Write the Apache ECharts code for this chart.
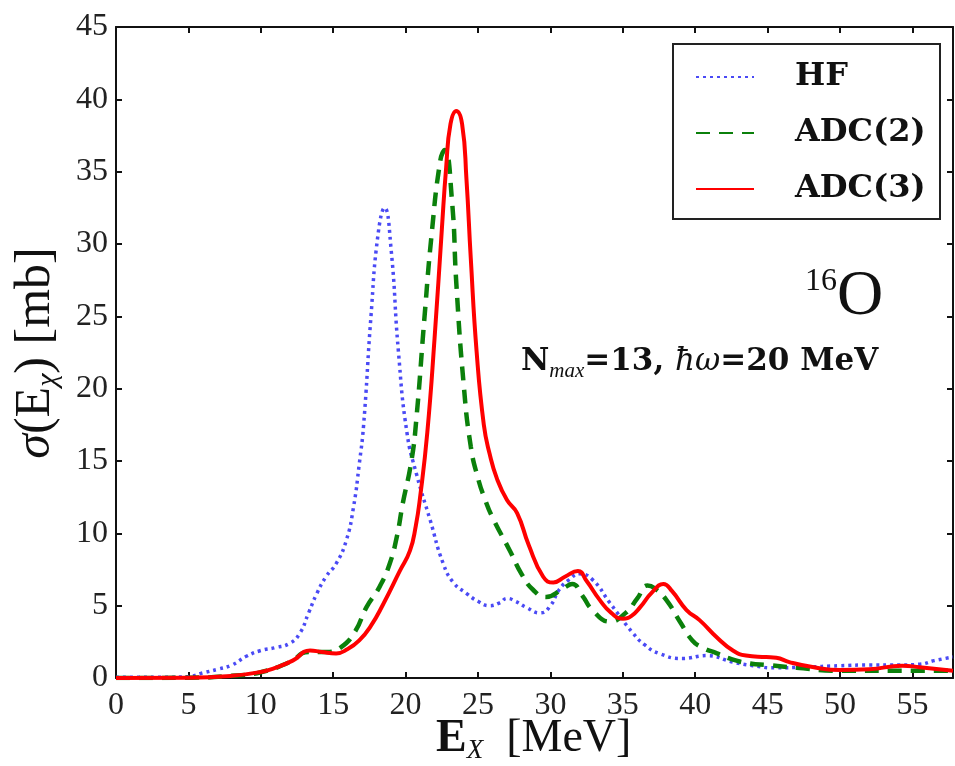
<!DOCTYPE html>
<html>
<head>
<meta charset="utf-8">
<script src="https://cdn.jsdelivr.net/npm/echarts@6/dist/echarts.min.js"></script>
<style>
html,body{margin:0;padding:0;background:#fff;}
#chart{width:955px;height:766px;}
</style>
</head>
<body>
<div id="chart"></div>
<script>
// ---- data ----
const seriesNames = ['HF', 'ADC(2)', 'ADC(3)'];
const xTicks = [0, 5, 10, 15, 20, 25, 30, 35, 40, 45, 50, 55];
const yTicks = [0, 5, 10, 15, 20, 25, 30, 35, 40, 45];

const hfX = [0, 3, 5, 6, 7, 8, 9, 10, 11, 12, 12.7, 13.3, 13.85, 14.5, 15.2, 15.9, 16.4, 16.8, 17.1, 17.6, 18.1, 18.55, 19.0, 19.5, 20.1, 20.75, 21.7, 22.6, 23.3, 24.2, 25.0, 25.8, 26.5, 27.0, 27.6, 28.3, 29.3, 30.0, 30.6, 31.3, 32.0, 32.9, 34.1, 35.7, 36.5, 37.5, 39.1, 40.8, 42.6, 44.0, 45.5, 47.5, 50, 52, 54, 55.5, 56.5, 57.8];
const hfY = [0.05, 0.05, 0.1, 0.35, 0.6, 0.9, 1.5, 1.9, 2.1, 2.4, 3.1, 4.5, 5.8, 7.0, 7.9, 9.5, 11.8, 14.8, 17.5, 24.9, 30.7, 32.5, 29.6, 22.6, 16.9, 14.1, 10.9, 7.9, 6.6, 5.85, 5.3, 5.0, 5.2, 5.5, 5.3, 4.9, 4.5, 5.0, 6.1, 6.8, 7.2, 6.8, 5.2, 3.1, 2.3, 1.7, 1.35, 1.55, 1.1, 0.85, 0.7, 0.75, 0.85, 0.9, 0.9, 0.95, 1.2, 1.45];

const adc2X = [0, 5, 8, 10, 12, 13.3, 14.5, 15.5, 16.5, 17.3, 18.2, 18.9, 19.4, 19.8, 20.4, 20.75, 21.3, 21.8, 22.4, 22.7, 23.2, 23.5, 24.0, 24.5, 25.0, 25.5, 26.0, 27.2, 28.0, 28.8, 29.7, 30.9, 31.5, 32.2, 32.9, 34.1, 35.2, 36.0, 36.7, 37.2, 38.0, 39.0, 39.8, 40.5, 41.5, 42.5, 43.8, 45, 47, 50, 55, 57.8];
const adc2Y = [0, 0.02, 0.15, 0.4, 1.1, 1.8, 1.8, 2.1, 3.2, 4.9, 6.3, 7.9, 9.8, 12.05, 15.0, 18.0, 24.9, 30.7, 35.8, 36.5, 33, 27.3, 20.4, 16.0, 13.8, 12.3, 11.1, 8.8, 7.2, 6.1, 5.6, 6.2, 6.5, 5.7, 4.7, 3.9, 4.5, 5.5, 6.4, 6.2, 5.4, 3.8, 2.6, 2.1, 1.7, 1.3, 1.0, 0.9, 0.7, 0.5, 0.5, 0.5];

const adc3X = [0, 5, 8, 9.9, 11, 12.2, 13.4, 14.2, 15.2, 16, 16.8, 17.6, 18.45, 19.6, 20.3, 20.7, 21.0, 21.5, 22.0, 22.5, 22.8, 23.1, 23.5, 23.9, 24.2, 24.5, 24.9, 25.4, 25.8, 26.3, 27.0, 27.7, 28.5, 29.5, 30.2, 31.0, 31.9, 32.5, 33.4, 34.2, 35.0, 35.6, 36.2, 37.0, 37.8, 38.4, 39.4, 40.3, 41.5, 42.6, 43.5, 44.9, 45.6, 46.5, 48.1, 50, 52, 54.3, 55.5, 57.8];
const adc3Y = [0, 0.02, 0.15, 0.4, 0.7, 1.2, 1.9, 1.8, 1.7, 2.0, 2.6, 3.6, 5.1, 7.4, 8.8, 10.5, 12.5, 17, 23.5, 31, 35.3, 38.3, 39.2, 38.3, 34.5, 29, 22.6, 17.5, 15.5, 13.8, 12.3, 11.4, 9.2, 7.0, 6.6, 7.0, 7.4, 6.7, 5.4, 4.5, 4.1, 4.3, 4.9, 5.9, 6.5, 6.0, 4.7, 4.0, 2.8, 1.9, 1.55, 1.45, 1.4, 1.1, 0.76, 0.55, 0.6, 0.85, 0.75, 0.5];

// ---- build chart ----
const zip = (xs, ys) => xs.map((x, i) => [x, ys[i]]);
const serif = '"Liberation Serif", "DejaVu Serif", serif';
const wideBold = '"DejaVu Serif", "Liberation Serif", serif';
const chart = echarts.init(document.getElementById('chart'));

const gridL = 116, gridT = 27, gridW = 837, gridH = 651;

function axisCommon() {
  return {
    axisLine: { show: true, onZero: false, lineStyle: { color: '#111', width: 2 } },
    axisTick: { show: true, inside: true, length: 6, lineStyle: { color: '#111', width: 2 } },
    splitLine: { show: false }
  };
}

chart.setOption({
  animation: false,
  backgroundColor: '#fff',
  grid: { left: gridL, top: gridT, width: gridW, height: gridH },
  xAxis: [
    Object.assign({
      type: 'value', min: 0, max: 57.8, interval: 5, position: 'bottom',
      axisLabel: { show: true, margin: 12, fontFamily: serif, fontSize: 32, color: '#222', showMaxLabel: false,
        formatter: v => xTicks.indexOf(v) >= 0 ? String(v) : '' }
    }, axisCommon()),
    Object.assign({
      type: 'value', min: 0, max: 57.8, interval: 5, position: 'top',
      axisLabel: { show: false }
    }, axisCommon())
  ],
  yAxis: [
    Object.assign({
      type: 'value', min: 0, max: 45, interval: 5, position: 'left',
      axisLabel: { show: true, margin: 8, fontFamily: serif, fontSize: 32, color: '#222',
        formatter: v => yTicks.indexOf(v) >= 0 ? String(v) : '' }
    }, axisCommon()),
    Object.assign({
      type: 'value', min: 0, max: 45, interval: 5, position: 'right',
      axisLabel: { show: false }
    }, axisCommon())
  ],
  legend: {
    left: 690, top: 55, orient: 'vertical',
    data: seriesNames,
    itemWidth: 58, itemHeight: 4, itemGap: 22,
    itemStyle: { color: 'transparent', borderColor: 'transparent', borderWidth: 0, opacity: 0 },
    textStyle: { fontFamily: wideBold, fontSize: 32, fontWeight: 'bold', color: '#111', padding: [0, 0, 0, 36], lineHeight: 34 },
    backgroundColor: 'transparent'
  },
  series: [
    { name: 'HF', type: 'line', data: zip(hfX, hfY), symbol: 'none', smooth: 0.5,
      lineStyle: { color: '#4a4af5', width: 3.5, type: [3, 4], cap: 'butt' }, itemStyle: { color: '#4a4af5' }, z: 2 },
    { name: 'ADC(2)', type: 'line', data: zip(adc2X, adc2Y), symbol: 'none', smooth: 0.5,
      lineStyle: { color: '#0b800b', width: 4.5, type: [14, 9] }, itemStyle: { color: '#0b800b' }, z: 3 },
    { name: 'ADC(3)', type: 'line', data: zip(adc3X, adc3Y), symbol: 'none', smooth: 0.5,
      lineStyle: { color: '#ff0000', width: 4 }, itemStyle: { color: '#ff0000' }, z: 4 }
  ],
  graphic: [
    { type: 'rect', shape: { x: 673, y: 44, width: 267, height: 175 },
      style: { fill: 'transparent', stroke: '#222', lineWidth: 2 }, z: 10 },
    { type: 'text', left: 805, top: 265, z: 10,
      style: { text: '{s|16}{o|O}', rich: {
        s: { fontFamily: serif, fontSize: 32, fill: '#111', verticalAlign: 'top', lineHeight: 62 },
        o: { fontFamily: serif, fontSize: 64, fill: '#111', lineHeight: 62 } } } },
    { type: 'text', left: 521, top: 346, z: 10,
      style: { text: '{b|N}{s|max}{b|=13, }{i|ħω}{b|=20 MeV}', rich: {
        b: { fontFamily: wideBold, fontSize: 31, fontWeight: 'bold', fill: '#111', lineHeight: 40 },
        s: { fontFamily: serif, fontSize: 21, fontStyle: 'italic', fill: '#111', lineHeight: 40, verticalAlign: 'bottom' },
        i: { fontFamily: wideBold, fontSize: 31, fontStyle: 'italic', fill: '#111', lineHeight: 40 } } } },
    { type: 'text', left: 436, top: 716, z: 10,
      style: { text: '{e|E}{x|X}{a|  [MeV]}', rich: {
        e: { fontFamily: serif, fontSize: 46, fontWeight: 'bold', fill: '#111', lineHeight: 50 },
        x: { fontFamily: serif, fontSize: 27, fontStyle: 'italic', fill: '#111', lineHeight: 50, verticalAlign: 'bottom' },
        a: { fontFamily: serif, fontSize: 46, fill: '#111', lineHeight: 50 } } } },
    { type: 'text', x: 36, y: 353, rotation: Math.PI / 2, z: 10,
      style: { text: '{s|σ}{a|(E}{x|χ}{a|) [mb]}', align: 'center', verticalAlign: 'middle', rich: {
        s: { fontFamily: serif, fontSize: 50, fontStyle: 'italic', fill: '#111', lineHeight: 54 },
        a: { fontFamily: serif, fontSize: 50, fill: '#111', lineHeight: 54 },
        x: { fontFamily: serif, fontSize: 30, fontStyle: 'italic', fill: '#111', lineHeight: 54, verticalAlign: 'bottom' } } } }
  ]
});
</script>
</body>
</html>
